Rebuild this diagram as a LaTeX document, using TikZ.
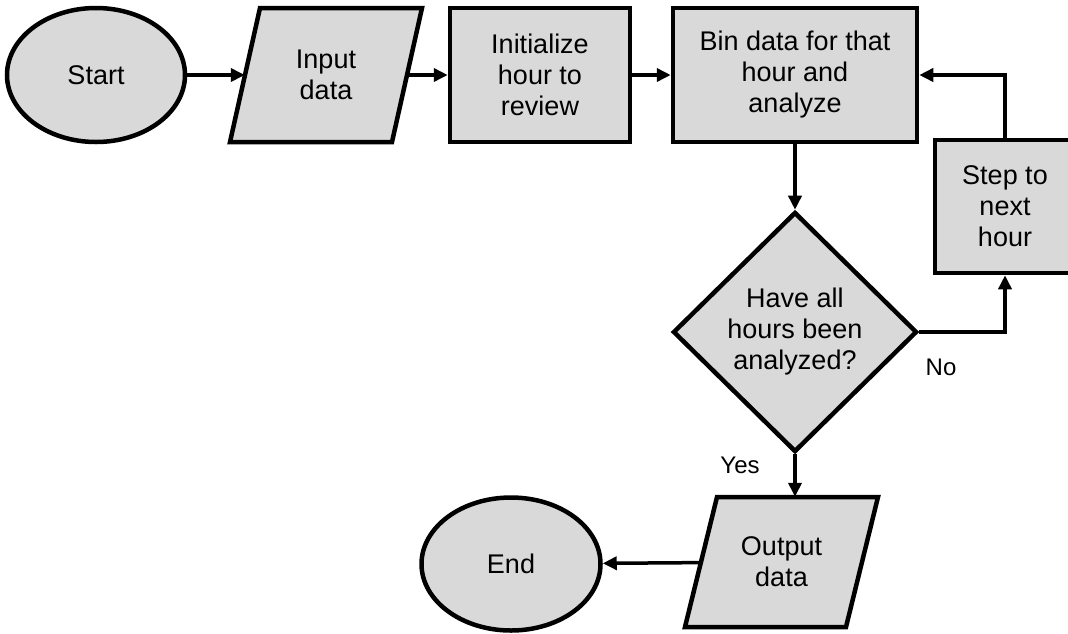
\documentclass[tikz,border=0pt]{standalone}
\usepackage{fontspec}
\setmainfont{Liberation Sans}
\usetikzlibrary{shapes.geometric,arrows.meta,backgrounds}
\definecolor{shapefill}{RGB}{217,217,217}
\begin{document}
\begin{tikzpicture}[x=1pt,y=-1pt,
  every node/.style={font=\fontsize{27}{31}\selectfont, align=center, text=black},
  shapebase/.style={draw=black, line width=4.5pt, fill=shapefill, inner sep=0pt, line join=miter},
  terminal/.style={shapebase, ellipse, minimum width=178pt, minimum height=134pt},
  procbox/.style 2 args={shapebase, rectangle, minimum width=#1, minimum height=#2},
  % text area of a data (I/O) block; its slanted outline is drawn behind it
  iotext/.style 2 args={rectangle, inner sep=0pt, minimum width=#1, minimum height=#2},
  decision/.style={shapebase, diamond, minimum width=244pt, minimum height=240pt},
  flow/.style={line width=3.5pt, -{Triangle[length=14pt,width=13pt]}},
  edgelabel/.style={font=\fontsize{24}{28}\selectfont}]
  \useasboundingbox (0,0) rectangle (1068,633);
  \clip (0,0) rectangle (1068,633);

  % shapes
  \node[terminal] (start) at (96,75) {Start};
  \node[iotext={162pt}{134pt}] (in) at (326,75) {Input\\data};
  \node[procbox={180pt}{134pt}] (init) at (540,75) {Initialize\\hour to\\review};
  \node[procbox={244pt}{134pt}] (bin) at (795,75) {Bin data for that\\hour and\\analyze};
  \node[procbox={140pt}{133pt}] (step) at (1005,206.5) {Step to\\next\\hour};
  \node[decision] (dec) at (795,332) {Have all\\hours been\\analyzed?};
  \node[iotext={161pt}{130pt}] (out) at (781.5,562) {Output\\data};
  \node[terminal, minimum width=179pt, minimum height=133pt] (end) at (511,564) {End};

  % slanted outlines of the data blocks
  \begin{scope}[on background layer]
    \draw[shapebase] (in.center) ++(-66,-67) -- ++(162,0) -- ++(-30,134) -- ++(-162,0) -- cycle;
    \draw[shapebase] (out.center) ++(-64.5,-65) -- ++(161,0) -- ++(-32,130) -- ++(-161,0) -- cycle;
  \end{scope}

  % connectors
  \draw[flow] (start) -- (in);
  \draw[flow] (in) -- (init);
  \draw[flow] (init) -- (bin);
  \draw[flow] (bin) -- (dec);
  \draw[flow] (dec.east) -| (step.south);
  \draw[flow] (step.north) |- (bin.east);
  \draw[flow] (dec.south) -- (dec.south |- out.north);
  \draw[flow] (out) -- (end);

  % branch labels
  \node[edgelabel] (nolabel) at (941,367) {No};
  \node[edgelabel] (yeslabel) at (740,465) {Yes};
\end{tikzpicture}
\end{document}
